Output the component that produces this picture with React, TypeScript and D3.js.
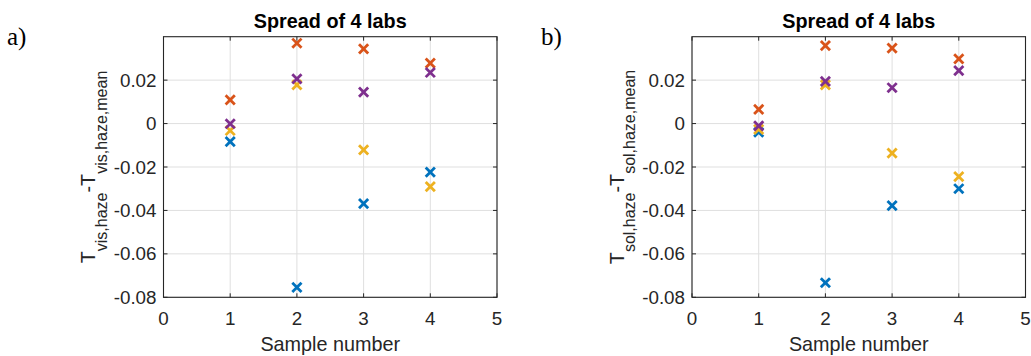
import React from "react";
import * as d3 from "d3";

// Sample numbers on the x axis
const sampleNumbers = [1, 2, 3, 4];

// Axis ticks
const xTicks = [0, 1, 2, 3, 4, 5];
const yTicks = [-0.08, -0.06, -0.04, -0.02, 0, 0.02];
const yTickLabels = ["-0.08", "-0.06", "-0.04", "-0.02", "0", "0.02"];

// Lab colours (blue, orange, yellow, purple)
const labColors = ["#0072BD", "#D95319", "#EDB120", "#7E2F8E"];

// a) visible transmittance haze, deviation from the mean of the labs
const visLab1 = [-0.0083, -0.0754, -0.0369, -0.0224];
const visLab2 = [0.0109, 0.037, 0.0344, 0.0278];
const visLab3 = [-0.0032, 0.0178, -0.0121, -0.029];
const visLab4 = [-0.0001, 0.0206, 0.0145, 0.0235];

// b) solar transmittance haze, deviation from the mean of the labs
const solLab1 = [-0.004, -0.0733, -0.0378, -0.03];
const solLab2 = [0.0065, 0.0359, 0.0347, 0.0298];
const solLab3 = [-0.0027, 0.0178, -0.0136, -0.0244];
const solLab4 = [-0.0011, 0.0194, 0.0165, 0.0244];

const W = 1031;
const H = 356;
const TOP = 36.7;
const BOTTOM = 297.3;
const FONT = "'Liberation Sans', Arial, Helvetica, sans-serif";
const AXIS_COLOR = "#262626";
const GRID_COLOR = "#dfdfdf";

type PanelProps = {
  left: number;
  right: number;
  letter: string;
  letterX: number;
  sub: string;
  series: number[][];
};

function Panel({ left, right, letter, letterX, sub, series }: PanelProps) {
  const x = d3.scaleLinear().domain([0, 5]).range([left, right]);
  const y = d3.scaleLinear().domain([-0.08, 0.04]).range([BOTTOM, TOP]);
  const tickLen = 4;
  const m = 4.6;
  const midY = (TOP + BOTTOM) / 2;

  return (
    <g>
      <text
        x={letterX}
        y={45}
        fontFamily="'Liberation Serif', 'Times New Roman', serif"
        fontSize={25}
        fill="#000"
      >
        {letter}
      </text>

      {/* grid */}
      {xTicks.map((t) => (
        <line key={"gx" + t} x1={x(t)} x2={x(t)} y1={TOP} y2={BOTTOM} stroke={GRID_COLOR} strokeWidth={1} />
      ))}
      {yTicks.map((t) => (
        <line key={"gy" + t} x1={left} x2={right} y1={y(t)} y2={y(t)} stroke={GRID_COLOR} strokeWidth={1} />
      ))}

      {/* markers */}
      {series.map((vals, si) => (
        <g key={"s" + si} stroke={labColors[si]} strokeWidth={2.8} strokeLinecap="butt">
          {vals.map((v, i) => {
            const cx = x(sampleNumbers[i]);
            const cy = y(v);
            return (
              <g key={i}>
                <line x1={cx - m} y1={cy - m} x2={cx + m} y2={cy + m} />
                <line x1={cx - m} y1={cy + m} x2={cx + m} y2={cy - m} />
              </g>
            );
          })}
        </g>
      ))}

      {/* box */}
      <rect x={left} y={TOP} width={right - left} height={BOTTOM - TOP} fill="none" stroke={AXIS_COLOR} strokeWidth={1.1} />

      {/* ticks */}
      {xTicks.map((t) => (
        <g key={"tx" + t} stroke={AXIS_COLOR} strokeWidth={1}>
          <line x1={x(t)} x2={x(t)} y1={BOTTOM} y2={BOTTOM - tickLen} />
          <line x1={x(t)} x2={x(t)} y1={TOP} y2={TOP + tickLen} />
        </g>
      ))}
      {yTicks.map((t) => (
        <g key={"ty" + t} stroke={AXIS_COLOR} strokeWidth={1}>
          <line x1={left} x2={left + tickLen} y1={y(t)} y2={y(t)} />
          <line x1={right} x2={right - tickLen} y1={y(t)} y2={y(t)} />
        </g>
      ))}

      {/* tick labels */}
      {xTicks.map((t) => (
        <text key={"lx" + t} x={x(t)} y={325} textAnchor="middle" fontFamily={FONT} fontSize={18.8} fill={AXIS_COLOR}>
          {String(t)}
        </text>
      ))}
      {yTicks.map((t, i) => (
        <text
          key={"ly" + t}
          x={left - 7}
          y={y(t) + 6.6}
          textAnchor="end"
          fontFamily={FONT}
          fontSize={18.8}
          fill={AXIS_COLOR}
        >
          {yTickLabels[i]}
        </text>
      ))}

      {/* title */}
      <text x={(left + right) / 2} y={28} textAnchor="middle" fontFamily={FONT} fontSize={19.8} fontWeight="bold" fill="#000">
        Spread of 4 labs
      </text>

      {/* x label */}
      <text x={(left + right) / 2} y={351} textAnchor="middle" fontFamily={FONT} fontSize={19.8} fill={AXIS_COLOR}>
        Sample number
      </text>

      {/* y label */}
      <text
        transform={`translate(${left - 68.5},${midY}) rotate(-90)`}
        textAnchor="middle"
        fontFamily={FONT}
        fontSize={19.8}
        fill={AXIS_COLOR}
      >
        <tspan>T</tspan>
        <tspan dy={11.5} fontSize={16}>{sub + ",haze"}</tspan>
        <tspan dy={-11.5}>-T</tspan>
        <tspan dy={11.5} fontSize={16}>{sub + ",haze,mean"}</tspan>
      </text>
    </g>
  );
}

export default function App() {
  return (
    <svg
      width={W}
      height={H}
      viewBox={`0 0 ${W} ${H}`}
      style={{ position: "absolute", left: 0, top: 0, background: "#fff" }}
    >
      <rect width={W} height={H} fill="#fff" />
      <Panel
        left={163.5}
        right={497}
        letter="a)"
        letterX={7}
        sub="vis"
        series={[visLab1, visLab2, visLab3, visLab4]}
      />
      <Panel
        left={692}
        right={1025.5}
        letter="b)"
        letterX={541}
        sub="sol"
        series={[solLab1, solLab2, solLab3, solLab4]}
      />
    </svg>
  );
}
